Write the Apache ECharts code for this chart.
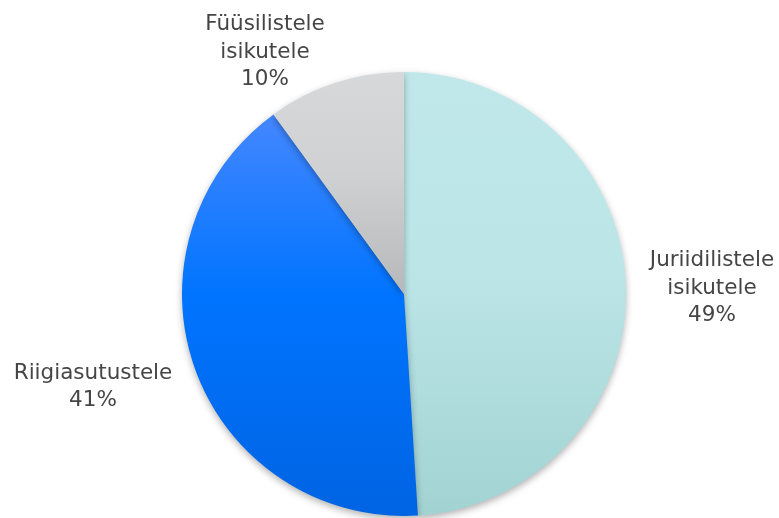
<!DOCTYPE html>
<html>
<head>
<meta charset="utf-8">
<script src="https://cdn.jsdelivr.net/npm/echarts@6/dist/echarts.min.js"></script>
<style>
html,body{margin:0;padding:0;background:#fff;}
#c{width:779px;height:518px;}
</style>
</head>
<body>
<div id="c"></div>
<script>
const categories = ["Juriidilistele\nisikutele", "Riigiasutustele", "Füüsilistele\nisikutele"];
const values = [49, 41, 10];
const gradientStops = [
  [[0, "#c0e8ea"], [0.45, "#bce5e7"], [1, "#a2d3d3"]],
  [[0, "#4487ff"], [0.45, "#0074ff"], [1, "#0064e3"]],
  [[0, "#d7d8da"], [0.45, "#d0d1d3"], [1, "#b7b8ba"]]
];
const labelPos = [[712, 288], [93, 387], [265, 52]];

const chart = echarts.init(document.getElementById('c'));
chart.setOption({
  animation: false,
  series: [{
    type: 'pie',
    center: [404, 294],
    radius: 222,
    startAngle: 90,
    clockwise: true,
    data: categories.map((n, i) => ({
      name: n,
      value: values[i],
      itemStyle: {
        color: new echarts.graphic.LinearGradient(0, 0, 0, 1,
          gradientStops[i].map(s => ({offset: s[0], color: s[1]})))
      }
    })),
    itemStyle: {
      shadowBlur: 7,
      shadowOffsetY: 3,
      shadowColor: 'rgba(0,0,0,0.3)'
    },
    label: {
      show: true,
      position: 'outside',
      formatter: '{b}\n{d}%',
      fontFamily: 'DejaVu Sans',
      fontSize: 21.5,
      lineHeight: 27.5,
      color: '#454545',
      align: 'center',
      overflow: 'none'
    },
    labelLine: {show: false},
    labelLayout: function (p) {
      const pos = labelPos[p.dataIndex];
      return {x: pos[0], y: pos[1], align: 'center', verticalAlign: 'middle'};
    }
  }]
});
</script>
</body>
</html>
